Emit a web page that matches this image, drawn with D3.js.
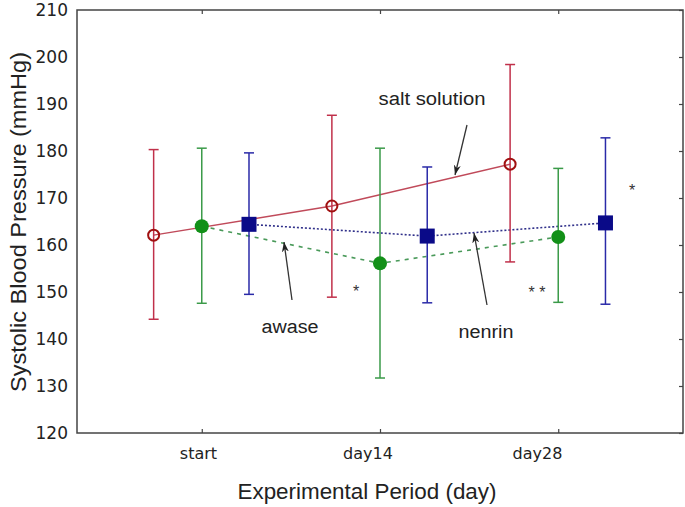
<!DOCTYPE html>
<html>
<head>
<meta charset="utf-8">
<script src="https://cdn.jsdelivr.net/npm/d3@7"></script>
<style>
body { margin: 0; background: #fff; }
svg { display: block; }
</style>
</head>
<body>
<svg width="685" height="507"></svg>
<script>
// chart values
const categories = ["start", "day14", "day28"];
const yTicks = [120, 130, 140, 150, 160, 170, 180, 190, 200, 210];

const saltMean = [162.1, 168.3, 177.2];
const saltHigh = [180.3, 187.6, 198.4];
const saltLow  = [144.2, 148.9, 156.4];

const awaseMean = [164.0, 156.1, 161.7];
const awaseHigh = [180.6, 180.6, 176.3];
const awaseLow  = [147.6, 131.7, 147.8];

const nenrinMean = [164.4, 161.9, 164.7];
const nenrinHigh = [179.6, 176.6, 182.8];
const nenrinLow  = [149.5, 147.7, 147.4];

const series = [
    {name: "salt", mean: saltMean, hi: saltHigh, lo: saltLow, off: -0.27,
     bar: "#c0304a", line: "#c04a5a", marker: "circle-open", mcolor: "#a01010", dash: null},
    {name: "awase", mean: awaseMean, hi: awaseHigh, lo: awaseLow, off: 0,
     bar: "#3a9a48", line: "#4a9a5a", marker: "circle", mcolor: "#129018", dash: "4,5"},
    {name: "nenrin", mean: nenrinMean, hi: nenrinHigh, lo: nenrinLow, off: 0.265,
     bar: "#2a2aa8", line: "#30308a", marker: "square", mcolor: "#0a0a88", dash: "2,2"}
];

const mLeft = 77, mRight = 683, mTop = 10, mBottom = 433;

const x = d3.scaleLinear().domain([0.3, 3.7]).range([mLeft, mRight]);
const y = d3.scaleLinear().domain([120, 210]).range([mBottom, mTop]);
// the category labels sit a little left of their ticks in the original
const labelX = d3.scaleLinear().domain([1, 3]).range([198, 537]);

const svg = d3.select("svg");

// frame
svg.append("rect")
    .attr("x", mLeft).attr("y", mTop)
    .attr("width", mRight - mLeft).attr("height", mBottom - mTop)
    .attr("fill", "none").attr("stroke", "#444").attr("stroke-width", 1.5);

// bottom axis
const xAxis = svg.append("g")
    .attr("transform", `translate(0,${mBottom})`)
    .call(d3.axisBottom(x).tickValues([1, 2, 3])
        .tickFormat((d, i) => categories[i]).tickSizeInner(-4).tickSizeOuter(0).tickPadding(15));
xAxis.select(".domain").remove();
xAxis.selectAll("line").attr("stroke", "#444").attr("stroke-width", 1.2);
xAxis.selectAll("text")
    .attr("x", d => labelX(d) - x(d))
    .attr("font-family", "DejaVu Sans").attr("font-size", 16).attr("fill", "#222");

// top ticks
svg.append("g")
    .attr("transform", `translate(0,${mTop})`)
    .call(d3.axisTop(x).tickValues([1, 2, 3]).tickFormat("").tickSizeInner(-4).tickSizeOuter(0))
    .call(g => g.select(".domain").remove())
    .selectAll("line").attr("stroke", "#444").attr("stroke-width", 1.2);

// left axis
const yAxis = svg.append("g")
    .attr("transform", `translate(${mLeft},0)`)
    .call(d3.axisLeft(y).tickValues(yTicks).tickSize(0).tickPadding(9));
yAxis.select(".domain").remove();
yAxis.selectAll("text").attr("font-family", "DejaVu Sans").attr("font-size", 17).attr("fill", "#222");

// right ticks
svg.append("g")
    .attr("transform", `translate(${mRight},0)`)
    .call(d3.axisRight(y).tickValues(yTicks).tickFormat("").tickSizeInner(-4).tickSizeOuter(0))
    .call(g => g.select(".domain").remove())
    .selectAll("line").attr("stroke", "#444").attr("stroke-width", 1.2);

// axis titles
svg.append("text")
    .attr("x", 367).attr("y", 499)
    .attr("text-anchor", "middle")
    .attr("font-family", "Liberation Sans, Arial").attr("font-size", 22).attr("fill", "#222")
    .attr("textLength", 259).attr("lengthAdjust", "spacingAndGlyphs")
    .text("Experimental Period (day)");

svg.append("text")
    .attr("transform", "translate(26,222) rotate(-90)")
    .attr("text-anchor", "middle")
    .attr("font-family", "Liberation Sans, Arial").attr("font-size", 22).attr("fill", "#222")
    .attr("textLength", 340).attr("lengthAdjust", "spacingAndGlyphs")
    .text("Systolic Blood Pressure (mmHg)");

// connecting lines
series.forEach(s => {
    const line = d3.line().x((d, i) => x(i + 1 + s.off)).y(d => y(d));
    svg.append("path")
        .attr("d", line(s.mean))
        .attr("fill", "none")
        .attr("stroke", s.line)
        .attr("stroke-width", s.dash ? 1.6 : 1.5)
        .attr("stroke-dasharray", s.dash);
});

// error bars
series.forEach(s => {
    const g = svg.append("g").attr("stroke", s.bar).attr("stroke-width", 1.5);
    s.mean.forEach((m, i) => {
        const cx = x(i + 1 + s.off);
        g.append("line").attr("x1", cx).attr("x2", cx).attr("y1", y(s.hi[i])).attr("y2", y(s.lo[i]));
        g.append("line").attr("x1", cx - 5).attr("x2", cx + 5).attr("y1", y(s.hi[i])).attr("y2", y(s.hi[i]));
        g.append("line").attr("x1", cx - 5).attr("x2", cx + 5).attr("y1", y(s.lo[i])).attr("y2", y(s.lo[i]));
    });
});

// markers
series.forEach(s => {
    s.mean.forEach((m, i) => {
        const cx = x(i + 1 + s.off), cy = y(m);
        if (s.marker == "circle-open") {
            svg.append("circle").attr("cx", cx).attr("cy", cy).attr("r", 5.5)
                .attr("fill", "none").attr("stroke", s.mcolor).attr("stroke-width", 2);
        } else if (s.marker == "circle") {
            svg.append("circle").attr("cx", cx).attr("cy", cy).attr("r", 7)
                .attr("fill", s.mcolor);
        } else {
            svg.append("rect").attr("x", cx - 7.5).attr("y", cy - 7.5)
                .attr("width", 15).attr("height", 15).attr("fill", s.mcolor);
        }
    });
});

// annotations
svg.append("defs").append("marker")
    .attr("id", "head")
    .attr("viewBox", "0 0 10 10")
    .attr("refX", 10).attr("refY", 5)
    .attr("markerWidth", 10).attr("markerHeight", 10)
    .attr("markerUnits", "userSpaceOnUse")
    .attr("orient", "auto")
    .append("path").attr("d", "M0,1.5 L10,5 L0,8.5 L3,5 Z").attr("fill", "#222");

const arrows = [
    [467, 125, 455, 175],
    [292, 300, 284, 242],
    [487, 305, 474, 233]
];
arrows.forEach(a => {
    svg.append("line")
        .attr("x1", a[0]).attr("y1", a[1]).attr("x2", a[2]).attr("y2", a[3])
        .attr("stroke", "#333").attr("stroke-width", 1.3)
        .attr("marker-end", "url(#head)");
});

const labels = [
    {t: "salt solution", x: 432, y: 105, w: 107},
    {t: "awase", x: 290, y: 333, w: 57},
    {t: "nenrin", x: 486, y: 338, w: 55}
];
labels.forEach(l => {
    svg.append("text")
        .attr("x", l.x).attr("y", l.y)
        .attr("text-anchor", "middle")
        .attr("font-family", "Liberation Sans, Arial").attr("font-size", 18).attr("fill", "#222")
        .attr("textLength", l.w).attr("lengthAdjust", "spacingAndGlyphs")
        .text(l.t);
});

const stars = [
    {t: "*", x: 356, y: 297},
    {t: "* *", x: 537, y: 298},
    {t: "*", x: 632, y: 196}
];
stars.forEach(s => {
    svg.append("text")
        .attr("x", s.x).attr("y", s.y)
        .attr("text-anchor", "middle")
        .attr("font-family", "Liberation Sans, Arial").attr("font-size", 16).attr("fill", "#333")
        .text(s.t);
});
</script>
</body>
</html>
